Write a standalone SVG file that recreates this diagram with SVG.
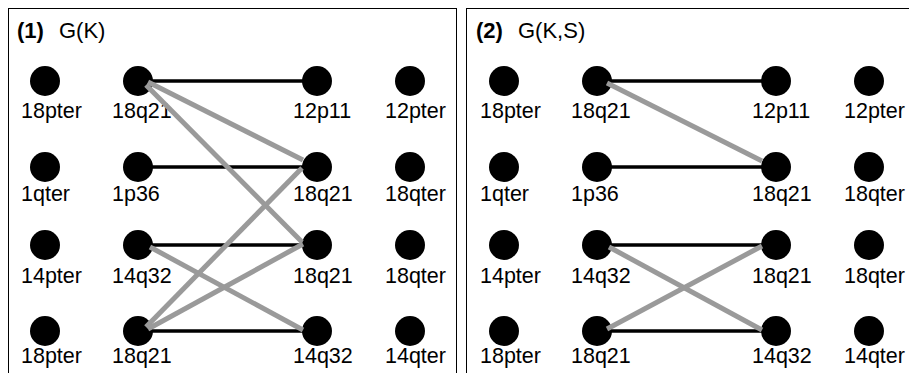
<svg xmlns="http://www.w3.org/2000/svg" width="909" height="373" viewBox="0 0 909 373">
<defs>
<style>
.panel{fill:#fff;stroke:#000;stroke-width:1}
.n{fill:#000}
.lbl{font-family:"Liberation Sans",Arial,sans-serif;font-size:21.5px;fill:#000}
.ttl{font-family:"Liberation Sans",Arial,sans-serif;font-size:22px;fill:#000}
.b{stroke:#000;stroke-width:3.5;fill:none}
.g{stroke:#9a9a9a;stroke-width:5;fill:none}
</style>
<g id="nodeproto">
<circle r="15" cx="0" cy="0" class="n"/>
</g>
</defs>
<rect width="909" height="373" fill="#fff"/>
<rect class="panel" x="8.5" y="8.5" width="448" height="380"/>
<rect class="panel" x="466.5" y="8.5" width="448" height="380"/>
<g id="title1"><text class="ttl" x="17" y="38"><tspan font-weight="bold">(1)</tspan><tspan x="59">G(K)</tspan></text></g>
<g id="title2"><text class="ttl" x="476" y="38"><tspan font-weight="bold">(2)</tspan><tspan x="518">G(K,S)</tspan></text></g>

<g id="p1-nodes">
<g id="p1-r1c1"><circle cx="45" cy="81" r="15" class="n"/><text class="lbl" x="21" y="118">18pter</text></g>
<g id="p1-r1c2"><circle cx="138" cy="81" r="15" class="n"/><text class="lbl" x="112" y="118">18q21</text></g>
<g id="p1-r1c3"><circle cx="317" cy="81" r="15" class="n"/><text class="lbl" x="293" y="118">12p11</text></g>
<g id="p1-r1c4"><circle cx="410" cy="81" r="15" class="n"/><text class="lbl" x="385" y="118">12pter</text></g>
<g id="p1-r2c1"><circle cx="45" cy="167" r="15" class="n"/><text class="lbl" x="21" y="201">1qter</text></g>
<g id="p1-r2c2"><circle cx="138" cy="167" r="15" class="n"/><text class="lbl" x="112" y="201">1p36</text></g>
<g id="p1-r2c3"><circle cx="317" cy="167" r="15" class="n"/><text class="lbl" x="293" y="201">18q21</text></g>
<g id="p1-r2c4"><circle cx="410" cy="167" r="15" class="n"/><text class="lbl" x="385" y="201">18qter</text></g>
<g id="p1-r3c1"><circle cx="45" cy="245" r="15" class="n"/><text class="lbl" x="21" y="283">14pter</text></g>
<g id="p1-r3c2"><circle cx="138" cy="245" r="15" class="n"/><text class="lbl" x="112" y="283">14q32</text></g>
<g id="p1-r3c3"><circle cx="317" cy="245" r="15" class="n"/><text class="lbl" x="293" y="283">18q21</text></g>
<g id="p1-r3c4"><circle cx="410" cy="245" r="15" class="n"/><text class="lbl" x="385" y="283">18qter</text></g>
<g id="p1-r4c1"><circle cx="45" cy="331" r="15" class="n"/><text class="lbl" x="21" y="363">18pter</text></g>
<g id="p1-r4c2"><circle cx="138" cy="331" r="15" class="n"/><text class="lbl" x="112" y="363">18q21</text></g>
<g id="p1-r4c3"><circle cx="317" cy="331" r="15" class="n"/><text class="lbl" x="293" y="363">14q32</text></g>
<g id="p1-r4c4"><circle cx="410" cy="331" r="15" class="n"/><text class="lbl" x="385" y="363">14qter</text></g>
</g>

<g id="p2-nodes">
<g id="p2-r1c1"><circle cx="504" cy="81" r="15" class="n"/><text class="lbl" x="480" y="118">18pter</text></g>
<g id="p2-r1c2"><circle cx="597" cy="81" r="15" class="n"/><text class="lbl" x="571" y="118">18q21</text></g>
<g id="p2-r1c3"><circle cx="776" cy="81" r="15" class="n"/><text class="lbl" x="752" y="118">12p11</text></g>
<g id="p2-r1c4"><circle cx="869" cy="81" r="15" class="n"/><text class="lbl" x="844" y="118">12pter</text></g>
<g id="p2-r2c1"><circle cx="504" cy="167" r="15" class="n"/><text class="lbl" x="480" y="201">1qter</text></g>
<g id="p2-r2c2"><circle cx="597" cy="167" r="15" class="n"/><text class="lbl" x="571" y="201">1p36</text></g>
<g id="p2-r2c3"><circle cx="776" cy="167" r="15" class="n"/><text class="lbl" x="752" y="201">18q21</text></g>
<g id="p2-r2c4"><circle cx="869" cy="167" r="15" class="n"/><text class="lbl" x="844" y="201">18qter</text></g>
<g id="p2-r3c1"><circle cx="504" cy="245" r="15" class="n"/><text class="lbl" x="480" y="283">14pter</text></g>
<g id="p2-r3c2"><circle cx="597" cy="245" r="15" class="n"/><text class="lbl" x="571" y="283">14q32</text></g>
<g id="p2-r3c3"><circle cx="776" cy="245" r="15" class="n"/><text class="lbl" x="752" y="283">18q21</text></g>
<g id="p2-r3c4"><circle cx="869" cy="245" r="15" class="n"/><text class="lbl" x="844" y="283">18qter</text></g>
<g id="p2-r4c1"><circle cx="504" cy="331" r="15" class="n"/><text class="lbl" x="480" y="363">18pter</text></g>
<g id="p2-r4c2"><circle cx="597" cy="331" r="15" class="n"/><text class="lbl" x="571" y="363">18q21</text></g>
<g id="p2-r4c3"><circle cx="776" cy="331" r="15" class="n"/><text class="lbl" x="752" y="363">14q32</text></g>
<g id="p2-r4c4"><circle cx="869" cy="331" r="15" class="n"/><text class="lbl" x="844" y="363">14qter</text></g>
</g>

<g id="connectors">
<line class="b" x1="150" y1="81" x2="303" y2="81"/>
<line class="b" x1="150" y1="167" x2="303" y2="167"/>
<line class="b" x1="150" y1="245" x2="303" y2="245"/>
<line class="b" x1="150" y1="331" x2="303" y2="331"/>
<line class="g" x1="148" y1="82" x2="303" y2="160"/>
<line class="g" x1="146" y1="85" x2="302" y2="242"/>
<line class="g" x1="146" y1="327" x2="302" y2="168"/>
<line class="g" x1="148" y1="329" x2="303" y2="244"/>
<line class="g" x1="150" y1="247" x2="303" y2="330"/>

<line class="b" x1="609" y1="81" x2="762" y2="81"/>
<line class="b" x1="609" y1="167" x2="762" y2="167"/>
<line class="b" x1="609" y1="245" x2="762" y2="245"/>
<line class="b" x1="609" y1="331" x2="762" y2="331"/>
<line class="g" x1="607" y1="83" x2="762" y2="161"/>
<line class="g" x1="609" y1="247" x2="762" y2="330"/>
<line class="g" x1="607" y1="329" x2="762" y2="246"/>
</g>
</svg>
